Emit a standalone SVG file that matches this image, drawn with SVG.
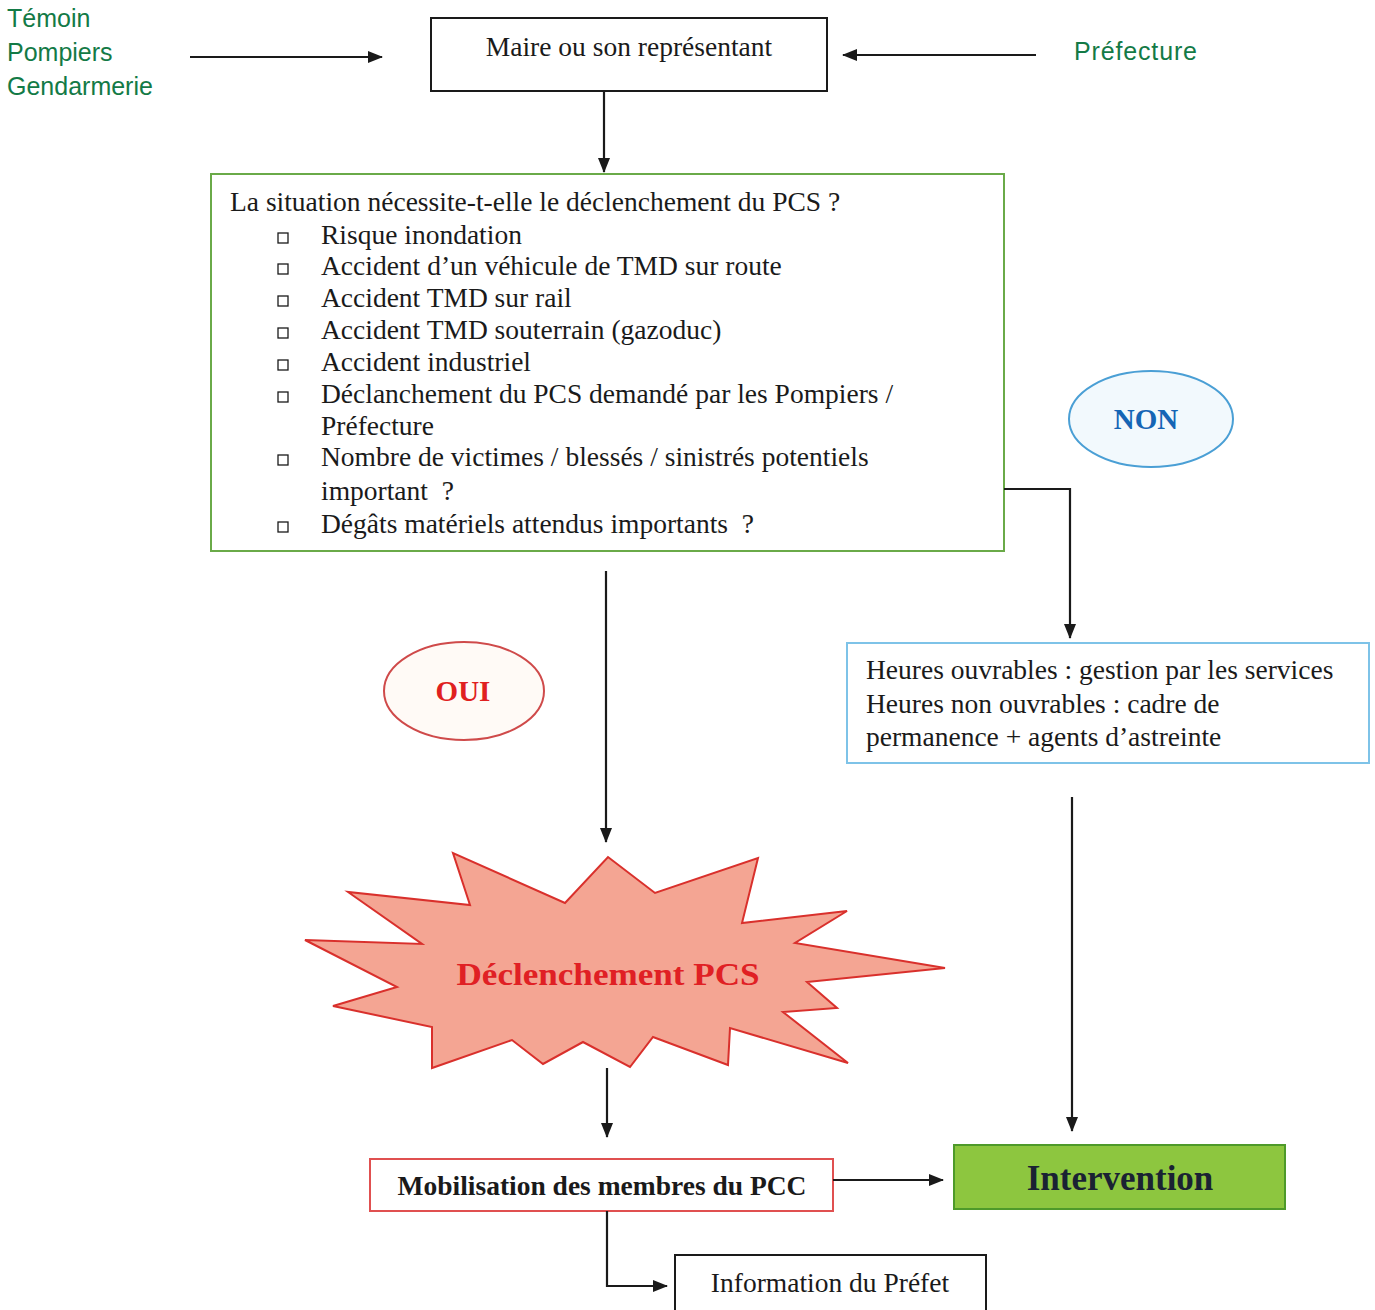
<svg xmlns="http://www.w3.org/2000/svg" width="1375" height="1310" viewBox="0 0 1375 1310">
<style>
.serif{font-family:"Liberation Serif","Times New Roman",serif;fill:#1a1a1a}
.sans{font-family:"Liberation Sans",Arial,sans-serif;fill:#137a46;font-size:25px}
.t25{font-size:27.5px}
.conn{stroke:#1a1a1a;stroke-width:2.2;fill:none;marker-end:url(#arr)}
.bullet{fill:none;stroke:#1a1a1a;stroke-width:1.3}
</style>
<defs>
<marker id="arr" markerUnits="userSpaceOnUse" markerWidth="16" markerHeight="14" refX="14" refY="7" orient="auto">
<path d="M0,1 L15,7 L0,13 Z" fill="#1a1a1a"/>
</marker>
</defs>
<rect width="1375" height="1310" fill="#ffffff"/>

<g id="sources">
<text class="sans" x="7" y="27">Témoin</text>
<text class="sans" x="7" y="61">Pompiers</text>
<text class="sans" x="7" y="95">Gendarmerie</text>
</g>
<g id="prefecture">
<text class="sans" x="1074" y="60" textLength="123" lengthAdjust="spacing">Préfecture</text>
</g>

<g id="maire">
<rect x="431" y="18" width="396" height="73" fill="#fff" stroke="#1a1a1a" stroke-width="2"/>
<text class="serif t25" x="629" y="56" text-anchor="middle">Maire ou son représentant</text>
</g>

<g id="question">
<rect x="211" y="174" width="793" height="377" fill="#fff" stroke="#6aaa48" stroke-width="2"/>
<text class="serif t25" x="230" y="211">La situation nécessite-t-elle le déclenchement du PCS ?</text>
<g>
<rect class="bullet" x="278" y="233" width="10" height="10"/>
<rect class="bullet" x="278" y="264" width="10" height="10"/>
<rect class="bullet" x="278" y="296" width="10" height="10"/>
<rect class="bullet" x="278" y="328" width="10" height="10"/>
<rect class="bullet" x="278" y="360" width="10" height="10"/>
<rect class="bullet" x="278" y="392" width="10" height="10"/>
<rect class="bullet" x="278" y="455" width="10" height="10"/>
<rect class="bullet" x="278" y="522" width="10" height="10"/>
</g>
<text class="serif t25" x="321" y="244">Risque inondation</text>
<text class="serif t25" x="321" y="275">Accident d’un véhicule de TMD sur route</text>
<text class="serif t25" x="321" y="307">Accident TMD sur rail</text>
<text class="serif t25" x="321" y="339">Accident TMD souterrain (gazoduc)</text>
<text class="serif t25" x="321" y="371">Accident industriel</text>
<text class="serif t25" x="321" y="403">Déclanchement du PCS demandé par les Pompiers /</text>
<text class="serif t25" x="321" y="435">Préfecture</text>
<text class="serif t25" x="321" y="466">Nombre de victimes / blessés / sinistrés potentiels</text>
<text class="serif t25" x="321" y="500" xml:space="preserve">important  ?</text>
<text class="serif t25" x="321" y="533" xml:space="preserve">Dégâts matériels attendus importants  ?</text>
</g>

<g id="non">
<ellipse cx="1151" cy="419" rx="82" ry="48" fill="#f2f9fd" stroke="#4a9fd5" stroke-width="2"/>
<text class="serif" x="1146" y="429" font-size="29" font-weight="bold" text-anchor="middle" style="fill:#1565b5">NON</text>
</g>

<g id="oui">
<ellipse cx="464" cy="691" rx="80" ry="49" fill="#fffaf6" stroke="#cf4a4a" stroke-width="2"/>
<text class="serif" x="463" y="701" font-size="29" font-weight="bold" text-anchor="middle" style="fill:#e02020">OUI</text>
</g>

<g id="heures">
<rect x="847" y="643" width="522" height="120" fill="#fff" stroke="#7ec3e8" stroke-width="2"/>
<text class="serif t25" x="866" y="679">Heures ouvrables : gestion par les services</text>
<text class="serif t25" x="866" y="713">Heures non ouvrables : cadre de</text>
<text class="serif t25" x="866" y="746">permanence + agents d’astreinte</text>
</g>

<g id="declenchement">
<polygon points="470,905 453,853 565,903 608,857 655,893 758,858 742,923 847,911 795,943 945,968 807,982 837,1008 783,1012 848,1063 730,1028 728,1065 653,1037 630,1067 583,1042 543,1064 512,1040 432,1068 432,1027 333,1006 397,987 305,940 422,944 348,892" fill="#f4a593" stroke="#d9302c" stroke-width="2" stroke-linejoin="miter"/>
<text class="serif" x="608" y="985" font-size="31" font-weight="bold" text-anchor="middle" textLength="303" lengthAdjust="spacingAndGlyphs" style="fill:#e02024">Déclenchement PCS</text>
</g>

<g id="mobilisation">
<rect x="370" y="1159" width="463" height="52" fill="#fff" stroke="#e05050" stroke-width="2"/>
<text class="serif" x="602" y="1195" font-size="27.5" font-weight="bold" text-anchor="middle">Mobilisation des membres du PCC</text>
</g>

<g id="intervention">
<rect x="954" y="1145" width="331" height="64" fill="#8dc63f" stroke="#4e9a2a" stroke-width="2"/>
<text class="serif" x="1120" y="1190" font-size="35" font-weight="bold" text-anchor="middle" style="fill:#1a2233">Intervention</text>
</g>

<g id="information">
<rect x="675" y="1255" width="311" height="60" fill="#fff" stroke="#1a1a1a" stroke-width="2"/>
<text class="serif t25" x="830" y="1292" text-anchor="middle">Information du Préfet</text>
</g>

<g id="connectors">
<path class="conn" d="M190,57 H382"/>
<path class="conn" d="M1036,55 H843"/>
<path class="conn" d="M604,91 V172"/>
<path class="conn" d="M1004,489 H1070 V638"/>
<path class="conn" d="M606,571 V842"/>
<path class="conn" d="M1072,797 V1131"/>
<path class="conn" d="M607,1068 V1137"/>
<path class="conn" d="M833,1180 H943"/>
<path class="conn" d="M607,1211 V1286 H667"/>
</g>
</svg>
